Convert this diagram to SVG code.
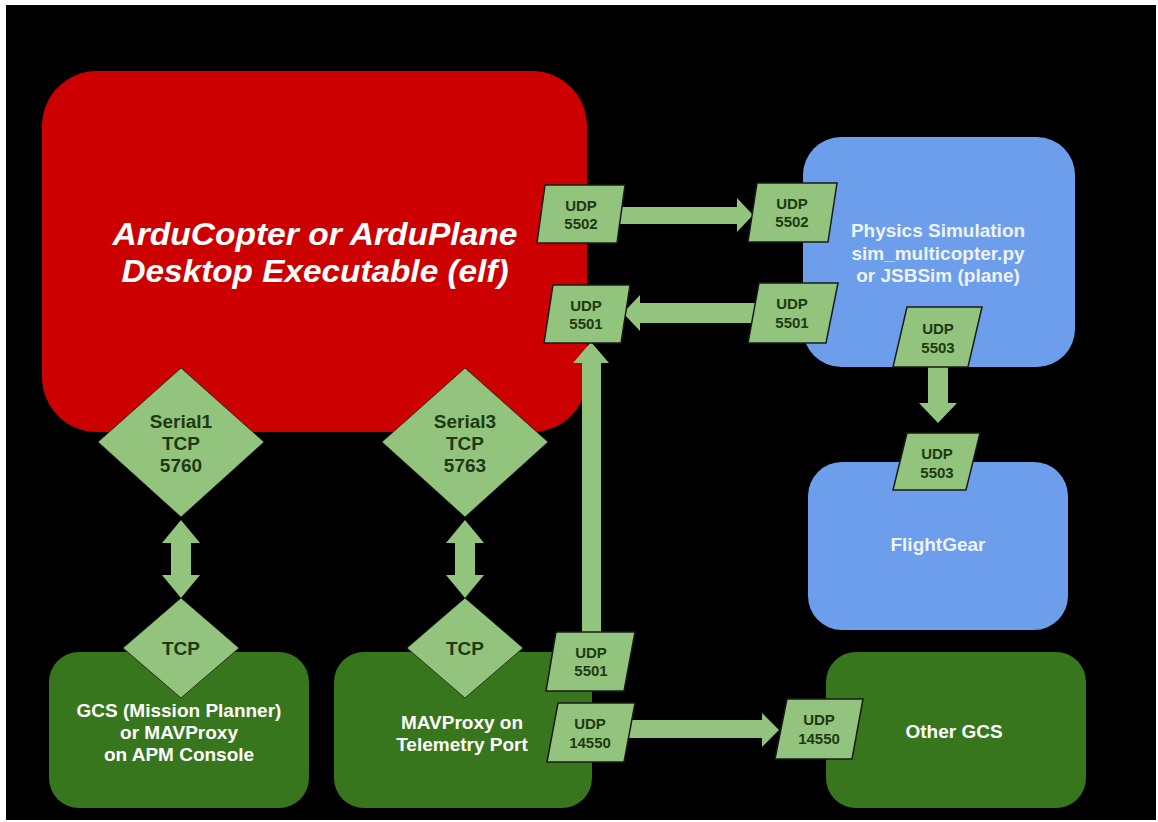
<svg xmlns="http://www.w3.org/2000/svg" width="1158" height="822" viewBox="0 0 1158 822">
<style>
.t{font-family:"Liberation Sans",Arial,sans-serif;font-weight:bold;text-anchor:middle}
.w{fill:#ffffff}
.wb{fill:#eef3fb}
.d{fill:#1e3a12}
.u{font-size:15px}
.m{font-size:19px}
.pl{fill:#93c47d;stroke:#1a1a1a;stroke-width:1.5}
.dm{fill:#93c47d;stroke:#1a1a1a;stroke-width:0.8}
.ar{fill:#93c47d}
.red{fill:#cc0000}
.blue{fill:#6d9eeb}
.green{fill:#38761d}
</style>
<rect x="0" y="0" width="1158" height="822" fill="#ffffff"/>
<rect x="6" y="5" width="1150" height="815" fill="#000000"/>

<g id="ardupilot">
<rect class="red" x="42" y="71" width="545" height="361" rx="55"/>
<text class="t w" font-style="italic" font-size="31" x="315" y="245" textLength="405" lengthAdjust="spacingAndGlyphs">ArduCopter or ArduPlane</text>
<text class="t w" font-style="italic" font-size="31" x="315" y="282" textLength="387" lengthAdjust="spacingAndGlyphs">Desktop Executable (elf)</text>
</g>

<g id="physics">
<rect class="blue" x="803" y="137" width="272" height="230" rx="38"/>
<text class="t wb m" x="938" y="237">Physics Simulation</text>
<text class="t wb m" x="938" y="260">sim_multicopter.py</text>
<text class="t wb m" x="938" y="282">or JSBSim (plane)</text>
</g>

<g id="flightgear">
<rect class="blue" x="808" y="462" width="260" height="168" rx="34"/>
<text class="t wb m" x="938" y="551">FlightGear</text>
</g>

<g id="gcs">
<rect class="green" x="49" y="652" width="260" height="156" rx="30"/>
<text class="t w m" x="179" y="717">GCS (Mission Planner)</text>
<text class="t w m" x="179" y="739">or MAVProxy</text>
<text class="t w m" x="179" y="761">on APM Console</text>
</g>

<g id="mavproxy">
<rect class="green" x="334" y="652" width="258" height="156" rx="30"/>
<text class="t w m" x="462" y="729">MAVProxy on</text>
<text class="t w m" x="462" y="751">Telemetry Port</text>
</g>

<g id="othergcs">
<rect class="green" x="826" y="652" width="260" height="156" rx="30"/>
<text class="t w m" x="954" y="738">Other GCS</text>
</g>

<g id="connectors">
<!-- bidirectional serial1 -->
<polygon class="ar" points="181,520 200,543 191,543 191,575 200,575 181,598 162,575 171,575 171,543 162,543"/>
<!-- bidirectional serial3 -->
<polygon class="ar" points="465,520 484,543 475,543 475,575 484,575 465,598 446,575 455,575 455,543 446,543"/>
<!-- 5502 right -->
<polygon class="ar" points="615,207 737,207 737,198 753,215 737,232 737,224 615,224"/>
<!-- 5501 left -->
<polygon class="ar" points="755,303 640,303 640,295 623,313 640,331 640,323 755,323"/>
<!-- 5503 down -->
<polygon class="ar" points="928,365 948,365 948,403 957,403 938,423 919,403 928,403"/>
<!-- vertical 5501 up -->
<polygon class="ar" points="582,634 582,363 573,363 591,342 609,363 601,363 601,634"/>
<!-- 14550 right -->
<polygon class="ar" points="626,720 762,720 762,713 779,730 762,747 762,738 626,738"/>
</g>

<g id="serial1">
<polygon class="dm" points="181,368 264,442 181,517 98,442"/>
<text class="t d m" x="181" y="428">Serial1</text>
<text class="t d m" x="181" y="450">TCP</text>
<text class="t d m" x="181" y="472">5760</text>
</g>

<g id="serial3">
<polygon class="dm" points="465,368 548,442 465,517 382,442"/>
<text class="t d m" x="465" y="428">Serial3</text>
<text class="t d m" x="465" y="450">TCP</text>
<text class="t d m" x="465" y="472">5763</text>
</g>

<g id="tcp1">
<polygon class="dm" points="181,598 239,648 181,698 123,648"/>
<text class="t d m" x="181" y="655">TCP</text>
</g>

<g id="tcp2">
<polygon class="dm" points="465,598 523,648 465,698 407,648"/>
<text class="t d m" x="465" y="655">TCP</text>
</g>

<g id="udp5502a">
<polygon class="pl" points="545,185 625,185 617,243 537,243"/>
<text class="t d u" x="581" y="211">UDP</text>
<text class="t d u" x="581" y="229">5502</text>
</g>

<g id="udp5502b">
<polygon class="pl" points="757,183 837,183 828,242 748,242"/>
<text class="t d u" x="792" y="209">UDP</text>
<text class="t d u" x="792" y="227">5502</text>
</g>

<g id="udp5501a">
<polygon class="pl" points="553,285 630,285 621,343 544,343"/>
<text class="t d u" x="586" y="311">UDP</text>
<text class="t d u" x="586" y="329">5501</text>
</g>

<g id="udp5501b">
<polygon class="pl" points="759,283 838,283 826,343 748,343"/>
<text class="t d u" x="792" y="309">UDP</text>
<text class="t d u" x="792" y="328">5501</text>
</g>

<g id="udp5503a">
<polygon class="pl" points="907,307 982,307 968,367 893,367"/>
<text class="t d u" x="938" y="334">UDP</text>
<text class="t d u" x="938" y="353">5503</text>
</g>

<g id="udp5503b">
<polygon class="pl" points="907,433 980,433 966,490 893,490"/>
<text class="t d u" x="937" y="459">UDP</text>
<text class="t d u" x="937" y="478">5503</text>
</g>

<g id="udp5501c">
<polygon class="pl" points="556,632 635,632 624,691 546,691"/>
<text class="t d u" x="591" y="658">UDP</text>
<text class="t d u" x="591" y="676">5501</text>
</g>

<g id="udp14550a">
<polygon class="pl" points="558,703 635,703 624,762 547,762"/>
<text class="t d u" x="590" y="729">UDP</text>
<text class="t d u" x="590" y="748">14550</text>
</g>

<g id="udp14550b">
<polygon class="pl" points="787,699 863,699 852,759 775,759"/>
<text class="t d u" x="819" y="725">UDP</text>
<text class="t d u" x="819" y="744">14550</text>
</g>
</svg>
